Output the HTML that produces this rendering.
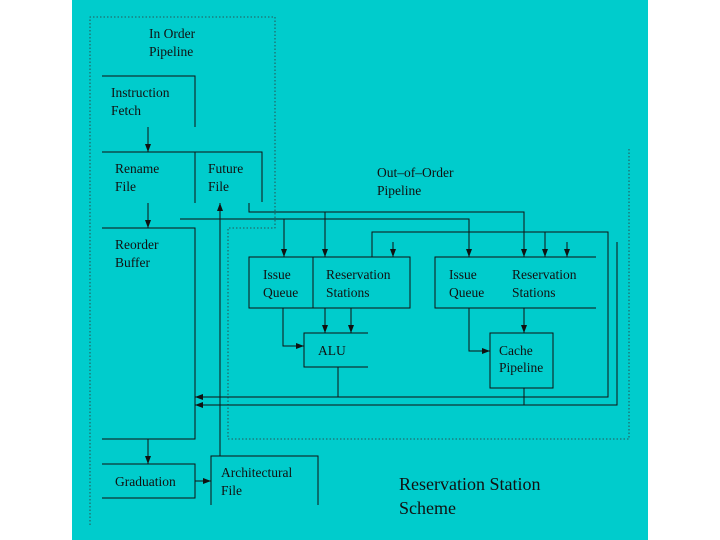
<!DOCTYPE html>
<html><head><style>
body{margin:0;width:720px;height:540px;background:#fff;overflow:hidden}
svg{display:block}
text{font-family:"Liberation Serif",serif;font-size:13.5px;fill:#111}
</style></head><body>
<svg width="720" height="540" viewBox="0 0 720 540">
<defs><marker id="a" markerWidth="8" markerHeight="6" refX="8" refY="3" orient="auto" markerUnits="userSpaceOnUse"><path d="M0,0L8,3L0,6z" fill="#111"/></marker></defs>
<rect x="72" y="0" width="576" height="540" fill="#00CCCC"/>
<g fill="none" stroke="#333" stroke-width="0.8" stroke-dasharray="1.5,2">
<path d="M90,525V17H275V228H228V439H629V148"/>
</g>
<g fill="none" stroke="#111" stroke-width="1">
<path d="M102,76H195V127"/>
<path d="M148,127V152" marker-end="url(#a)"/>
<path d="M102,152H262V202M195,152V203"/>
<path d="M148,203V228" marker-end="url(#a)"/>
<path d="M102,228H195V439H102"/>
<path d="M148,439V464" marker-end="url(#a)"/>
<path d="M102,464H195V498H102"/>
<path d="M195,481H211" marker-end="url(#a)"/>
<path d="M211,505V456H318V505"/>
<path d="M220,456V203" marker-end="url(#a)"/>
<path d="M249,203V212H524V257" marker-end="url(#a)"/>
<path d="M325,212V257" marker-end="url(#a)"/>
<path d="M180,219H469V257" marker-end="url(#a)"/>
<path d="M284,219V257" marker-end="url(#a)"/>
<path d="M372,257V232H608V397H195" marker-end="url(#a)"/>
<path d="M545,232V257" marker-end="url(#a)"/>
<path d="M393,242V257" marker-end="url(#a)"/>
<path d="M567,242V257" marker-end="url(#a)"/>
<path d="M617,242V405H195" marker-end="url(#a)"/>
<rect x="249" y="257" width="161" height="51"/>
<path d="M313,257V308"/>
<path d="M596,257H435V308H596"/>
<path d="M368,333H304V367H368"/>
<path d="M325,308V333" marker-end="url(#a)"/>
<path d="M351,308V333" marker-end="url(#a)"/>
<path d="M283,308V346H304" marker-end="url(#a)"/>
<path d="M338,367V397"/>
<rect x="490" y="333" width="63" height="55"/>
<path d="M524,308V333" marker-end="url(#a)"/>
<path d="M469,308V351H490" marker-end="url(#a)"/>
<path d="M524,388V405"/>
</g>
<text x="149" y="38">In  Order</text><text x="149" y="56">Pipeline</text>
<text x="111" y="97">Instruction</text><text x="111" y="115">Fetch</text>
<text x="115" y="173">Rename</text><text x="115" y="191">File</text>
<text x="208" y="173">Future</text><text x="208" y="191">File</text>
<text x="377" y="177">Out–of–Order</text><text x="377" y="195">Pipeline</text>
<text x="115" y="249">Reorder</text><text x="115" y="267">Buffer</text>
<text x="263" y="279">Issue</text><text x="263" y="297">Queue</text>
<text x="326" y="279">Reservation</text><text x="326" y="297">Stations</text>
<text x="449" y="279">Issue</text><text x="449" y="297">Queue</text>
<text x="512" y="279">Reservation</text><text x="512" y="297">Stations</text>
<text x="318" y="355">ALU</text>
<text x="499" y="355">Cache</text><text x="499" y="372">Pipeline</text>
<text x="115" y="486">Graduation</text>
<text x="221" y="477">Architectural</text><text x="221" y="495">File</text>
<text x="399" y="490" style="font-size:18px">Reservation Station</text>
<text x="399" y="514" style="font-size:18px">Scheme</text>
</svg>
</body></html>
